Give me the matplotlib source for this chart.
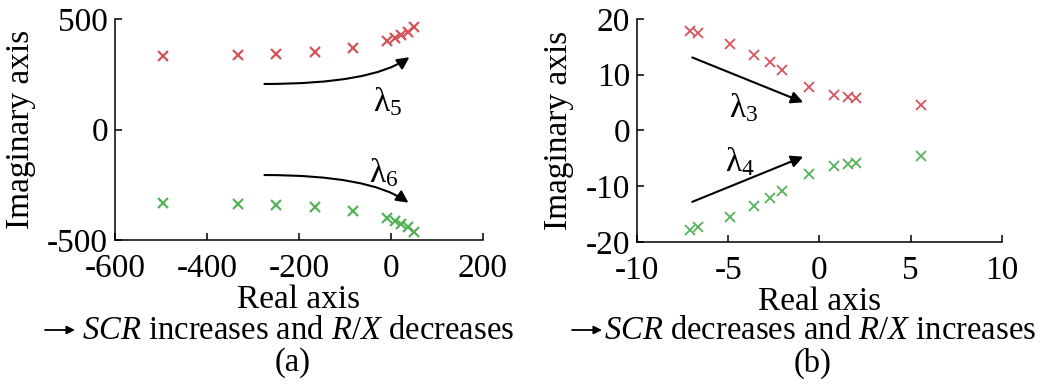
import matplotlib
matplotlib.use("Agg")
import matplotlib.pyplot as plt

plt.rcParams['font.family'] = ['Liberation Serif', 'DejaVu Sans']
plt.rcParams['mathtext.fontset'] = 'custom'
plt.rcParams['mathtext.rm'] = 'Liberation Serif'
plt.rcParams['mathtext.it'] = 'Liberation Serif:italic'
plt.rcParams['axes.unicode_minus'] = False
plt.rcParams['font.size'] = 24

# Eigenvalues lambda5 / lambda6 (panel a), conjugate pairs
real_a = [-495, -333, -250, -166, -83, -8, 8, 22, 36, 50]
imag_a = [331, 339, 342, 350, 368, 402, 415, 428, 442, 465]

# Eigenvalues lambda3 / lambda4 (panel b), conjugate pairs
real_b = [-7.10, -6.67, -4.90, -3.57, -2.71, -2.07, -0.56, 0.81, 1.58, 1.98, 5.55]
imag_b = [17.9, 17.4, 15.5, 13.5, 12.2, 10.9, 7.75, 6.37, 5.96, 5.78, 4.57]

xticks_a = [-600, -400, -200, 0, 200]
yticks_a = [-500, 0, 500]
xticks_b = [-10, -5, 0, 5, 10]
yticks_b = [-20, -10, 0, 10, 20]

red = '#d4545a'
green = '#55b25a'

fig = plt.figure(figsize=(10.47, 3.86), dpi=100)
ax_a = fig.add_axes([0.1098, 0.3782, 0.3515, 0.5726])
ax_b = fig.add_axes([0.6084, 0.3731, 0.3486, 0.5777])


def style(ax, xticks, yticks):
    ax.set_xlim(xticks[0], xticks[-1])
    ax.set_ylim(yticks[0], yticks[-1])
    ax.set_xticks(xticks)
    ax.set_yticks(yticks)
    ax.set_xticklabels([str(t) for t in xticks])
    ax.set_yticklabels([str(t) for t in yticks])
    for side in ['top', 'right']:
        ax.spines[side].set_visible(False)
    for side in ['left', 'bottom']:
        ax.spines[side].set_linewidth(1.1)
    ax.tick_params(direction='in', length=5, width=1.1)
    ax.tick_params(axis='x', pad=10)
    ax.tick_params(axis='y', pad=5)
    ax.set_xlabel('Real axis', labelpad=0)
    ax.set_ylabel('Imaginary axis', labelpad=8)


def curved(ax, start, end, angle_b):
    ax.annotate('', xy=end, xytext=start,
                arrowprops=dict(arrowstyle='-|>', color='black', lw=1.5,
                                mutation_scale=18, shrinkA=0, shrinkB=0,
                                connectionstyle='angle3,angleA=0,angleB=%d' % angle_b))


def straight(ax, start, end):
    ax.annotate('', xy=end, xytext=start,
                arrowprops=dict(arrowstyle='-|>', color='black', lw=1.5,
                                mutation_scale=18, shrinkA=0, shrinkB=0))


def caption(x_arrow, x_text, text, x_label, label):
    # small arrow before the caption, then the caption text (figure pixels)
    ax_a.annotate('', xy=(x_arrow + 30, 56), xytext=(x_arrow, 56),
                  xycoords='figure pixels', textcoords='figure pixels',
                  arrowprops=dict(arrowstyle='-|>', color='black', lw=1.3,
                                  mutation_scale=12, shrinkA=0, shrinkB=0))
    fig.text(x_text / 1047, 47 / 386, text, ha='left', va='baseline', fontsize=23.5)
    fig.text(x_label / 1047, 23 / 386, label, ha='center', va='center', fontsize=23.5)


# panel (a)
ax_a.plot(real_a, imag_a, 'x', color=red, ms=7.5, mew=1.6, clip_on=False)
ax_a.plot(real_a, [-v for v in imag_a], 'x', color=green, ms=7.5, mew=1.6, clip_on=False)
style(ax_a, xticks_a, yticks_a)
curved(ax_a, (-275, 206), (40, 327), 35)
curved(ax_a, (-275, -206), (38, -331), -35)
ax_a.text(-7, 126, r'$\mathrm{\lambda}_5$', ha='center', va='center')
ax_a.text(-15, -198, r'$\mathrm{\lambda}_6$', ha='center', va='center')

# panel (b)
ax_b.plot(real_b, imag_b, 'x', color=red, ms=7.5, mew=1.3, clip_on=False)
ax_b.plot(real_b, [-v for v in imag_b], 'x', color=green, ms=7.5, mew=1.3, clip_on=False)
style(ax_b, xticks_b, yticks_b)
straight(ax_b, (-6.97, 13.1), (-0.89, 5.06))
straight(ax_b, (-6.97, -12.8), (-0.89, -4.7))
ax_b.text(-4.17, 4.0, r'$\mathrm{\lambda}_3$', ha='center', va='center')
ax_b.text(-4.36, -5.6, r'$\mathrm{\lambda}_4$', ha='center', va='center')

# captions
caption(45, 82, r'$SCR$ increases and $R/X$ decreases', 293, '(a)')
caption(572, 604, r'$SCR$ decreases and $R/X$ increases', 813, '(b)')

fig.savefig('out.png', dpi=100)
